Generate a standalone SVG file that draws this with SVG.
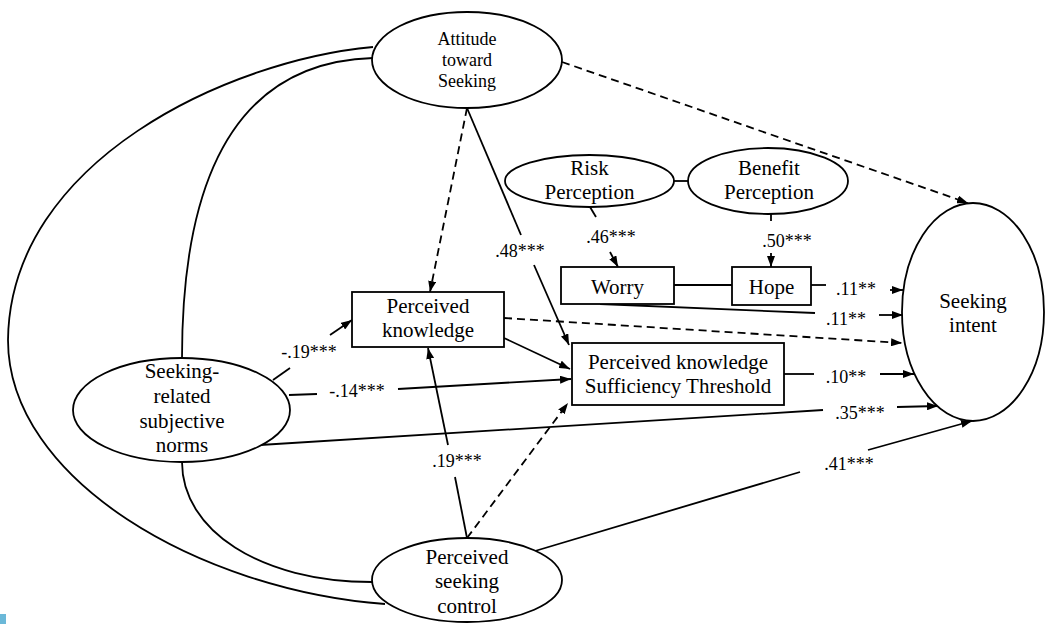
<svg xmlns="http://www.w3.org/2000/svg" width="1045" height="624" viewBox="0 0 1045 624">
<defs>
<marker id="ah" viewBox="0 0 11 8" refX="11" refY="4" markerWidth="11" markerHeight="8" markerUnits="userSpaceOnUse" orient="auto">
<path d="M0,0 L11,4 L0,8 z" fill="#000"/>
</marker>
</defs>
<style>
.n{fill:#fff;stroke:#000;stroke-width:1.8}
.t{font-family:"Liberation Serif","Times New Roman",serif;font-size:21px;fill:#000;text-anchor:middle}
.ts{font-size:18px}
.l{font-family:"Liberation Serif","Times New Roman",serif;font-size:18px;fill:#000;text-anchor:middle}
.c{fill:none;stroke:#000;stroke-width:1.8}
.d{stroke-dasharray:8 5}
.a{marker-end:url(#ah)}
</style>
<rect width="1045" height="624" fill="#fff"/>
<rect x="0" y="614" width="6" height="10" fill="#6bb8d8"/>
<g id="connectors">
<path class="c" d="M373,47 C230,60 10,160 8,340 C8,480 200,590 385,604"/>
<path class="c" d="M373,58 C240,62 182,170 182,358"/>
<path class="c" d="M182,462 C182,530 260,582 372,582"/>
<line class="c d a" x1="562" y1="62" x2="968" y2="203"/>
<line class="c d a" x1="467" y1="108" x2="430" y2="292"/>
<line class="c" x1="467" y1="108" x2="521" y2="235"/>
<line class="c a" x1="534" y1="265" x2="569" y2="345"/>
<line class="c" x1="674" y1="181" x2="689" y2="181"/>
<line class="c" x1="590" y1="207" x2="596" y2="217"/>
<line class="c a" x1="610" y1="252" x2="618" y2="267"/>
<line class="c" x1="771" y1="214" x2="771" y2="221"/>
<line class="c a" x1="771" y1="253" x2="771" y2="267"/>
<line class="c" x1="674" y1="285" x2="732" y2="285"/>
<line class="c" x1="811" y1="285" x2="826" y2="285"/>
<line class="c a" x1="890" y1="290" x2="903" y2="290"/>
<line class="c" x1="600" y1="304" x2="815" y2="313"/>
<line class="c a" x1="879" y1="315" x2="903" y2="315"/>
<line class="c d a" x1="504" y1="318" x2="902" y2="343"/>
<line class="c a" x1="504" y1="338" x2="570" y2="369"/>
<line class="c" x1="273" y1="380" x2="290" y2="368"/>
<line class="c a" x1="330" y1="335" x2="352" y2="320"/>
<line class="c" x1="289" y1="395" x2="317" y2="394"/>
<line class="c a" x1="398" y1="389" x2="571" y2="379"/>
<line class="c" x1="260" y1="445" x2="823" y2="410"/>
<line class="c a" x1="897" y1="407" x2="938" y2="406"/>
<line class="c" x1="784" y1="374" x2="814" y2="374"/>
<line class="c a" x1="880" y1="374" x2="914" y2="374"/>
<line class="c" x1="467" y1="538" x2="455" y2="477"/>
<line class="c a" x1="448" y1="445" x2="428" y2="348"/>
<line class="c d a" x1="467" y1="538" x2="568" y2="403"/>
<line class="c" x1="535" y1="551" x2="800" y2="472"/>
<line class="c a" x1="868" y1="450" x2="972" y2="421"/>
</g>
<g id="labels">
<text class="l" x="611" y="243">.46***</text>
<text class="l" x="787" y="247">.50***</text>
<text class="l" x="520" y="257">.48***</text>
<text class="l" x="309" y="358">-.19***</text>
<text class="l" x="357" y="397">-.14***</text>
<text class="l" x="457" y="467">.19***</text>
<text class="l" x="856" y="295">.11**</text>
<text class="l" x="846" y="325">.11**</text>
<text class="l" x="846" y="383">.10**</text>
<text class="l" x="860" y="419">.35***</text>
<text class="l" x="849" y="470">.41***</text>
</g>
<g id="attitude">
<ellipse class="n" cx="467" cy="60" rx="95" ry="48"/>
<text class="t ts" x="467" y="45">Attitude</text>
<text class="t ts" x="467" y="66">toward</text>
<text class="t ts" x="467" y="87">Seeking</text>
</g>
<g id="risk">
<ellipse class="n" cx="589.5" cy="181" rx="84.5" ry="26"/>
<text class="t" x="589.5" y="175">Risk</text>
<text class="t" x="589.5" y="199">Perception</text>
</g>
<g id="benefit">
<ellipse class="n" cx="768" cy="181" rx="80" ry="33"/>
<text class="t" x="769" y="175">Benefit</text>
<text class="t" x="769" y="199">Perception</text>
</g>
<g id="worry">
<rect class="n" x="561" y="267" width="113" height="37"/>
<text class="t" x="617.5" y="294">Worry</text>
</g>
<g id="hope">
<rect class="n" x="732" y="267" width="79" height="38"/>
<text class="t" x="771.5" y="294">Hope</text>
</g>
<g id="pk">
<rect class="n" x="352" y="292" width="152" height="55"/>
<text class="t" x="428" y="313">Perceived</text>
<text class="t" x="428" y="337">knowledge</text>
</g>
<g id="pkst">
<rect class="n" x="572" y="343" width="212" height="62"/>
<text class="t" x="678" y="369">Perceived knowledge</text>
<text class="t" x="678" y="393">Sufficiency Threshold</text>
</g>
<g id="norms">
<ellipse class="n" cx="181.5" cy="410" rx="108.5" ry="52"/>
<text class="t" x="182" y="378">Seeking-</text>
<text class="t" x="182" y="403">related</text>
<text class="t" x="182" y="428">subjective</text>
<text class="t" x="182" y="452">norms</text>
</g>
<g id="control">
<ellipse class="n" cx="467" cy="580" rx="95" ry="42"/>
<text class="t" x="467" y="564">Perceived</text>
<text class="t" x="467" y="588">seeking</text>
<text class="t" x="467" y="613">control</text>
</g>
<g id="intent">
<ellipse class="n" cx="973" cy="312" rx="71" ry="109"/>
<text class="t" x="973" y="308">Seeking</text>
<text class="t" x="973" y="332">intent</text>
</g>
</svg>
